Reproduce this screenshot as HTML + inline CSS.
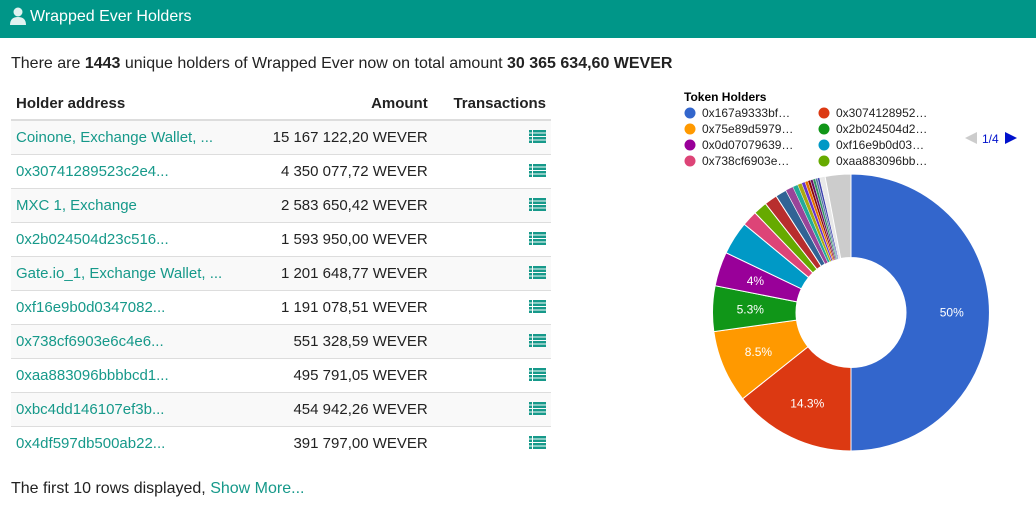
<!DOCTYPE html>
<html><head><meta charset="utf-8"><style>
body{margin:0;width:1036px;height:507px;overflow:hidden;background:#fff;font-family:"Liberation Sans",sans-serif;color:#333;position:relative}
.bar{position:absolute;left:0;top:0;width:1036px;height:38px;background:#009688;color:#fff;font-size:16px}
.bar span{position:absolute;left:30px;top:8px}
.p{position:absolute;left:11px;top:55px;font-size:16px;color:#222}
table{position:absolute;left:11px;top:88px;width:540px;border-collapse:collapse;font-size:15px}
th{height:31px;border-bottom:2px solid #ddd;font-weight:bold;color:#222;padding:0 5px;text-align:left}
td{height:33px;border-top:1px solid #ddd;padding:0 5px;color:#222}
tr.o td{background:#f9f9f9}
td a{color:#16998a}
.r{text-align:right}
td.am{padding-right:10px}
th.am{padding-right:10px}
.ic{display:inline-block;width:17px;height:13px;vertical-align:-1px}
.f{position:absolute;left:11px;top:480px;font-size:16px;color:#222}
.f a{color:#16998a}
</style></head><body>
<div class="bar"><svg style="position:absolute;left:10px;top:7px" width="16" height="18" viewBox="0 0 16 18"><circle cx="8" cy="5" r="4.5" fill="#e0f2f0"/><path d="M0 18 Q0 10 8 10 Q16 10 16 18Z" fill="#e0f2f0"/></svg><span>Wrapped Ever Holders</span></div>
<div class="p">There are <b>1443</b> unique holders of Wrapped Ever now on total amount <b>30 365 634,60 WEVER</b></div>
<table>
<tr><th>Holder address</th><th class="r am">Amount</th><th class="r">Transactions</th></tr>
<tbody id="tb"></tbody>
</table>
<div class="f">The first 10 rows displayed, <a>Show More...</a></div>
<svg id="pie" style="position:absolute;left:0;top:0" width="1036" height="507">
<text x="684" y="101" font-size="12" font-weight="bold" fill="#000" font-family="Liberation Sans">Token Holders</text>
</svg>
<script>
var rows=[["Coinone, Exchange Wallet, ...","15 167 122,20"],["0x30741289523c2e4...","4 350 077,72"],["MXC 1, Exchange","2 583 650,42"],["0x2b024504d23c516...","1 593 950,00"],["Gate.io_1, Exchange Wallet, ...","1 201 648,77"],["0xf16e9b0d0347082...","1 191 078,51"],["0x738cf6903e6c4e6...","551 328,59"],["0xaa883096bbbbcd1...","495 791,05"],["0xbc4dd146107ef3b...","454 942,26"],["0x4df597db500ab22...","391 797,00"]];
var ic='<svg class="ic" viewBox="0 0 17 13"><g fill="#16998a"><rect x="0" y="0" width="3" height="2.5"/><rect x="4" y="0" width="13" height="2.5"/><rect x="0" y="3.5" width="3" height="2.5"/><rect x="4" y="3.5" width="13" height="2.5"/><rect x="0" y="7" width="3" height="2.5"/><rect x="4" y="7" width="13" height="2.5"/><rect x="0" y="10.5" width="3" height="2.5"/><rect x="4" y="10.5" width="13" height="2.5"/></g></svg>';
var h='';rows.forEach(function(r,i){h+='<tr class="'+(i%2==0?'o':'')+'"><td><a>'+r[0]+'</a></td><td class="r am">'+r[1]+' WEVER</td><td class="r">'+ic+'</td></tr>'});
document.getElementById('tb').innerHTML=h;
var s=[[50,'#3366cc','50%'],[14.3,'#dc3912','14.3%'],[8.5,'#ff9900','8.5%'],[5.3,'#109618','5.3%'],[4,'#990099','4%'],[3.9,'#0099c6'],[1.8,'#dd4477'],[1.6,'#66aa00'],[1.5,'#b82e2e'],[1.3,'#316395'],[0.9,'#994499'],[0.6,'#22aa99'],[0.5,'#aaaa11'],[0.4,'#6633cc'],[0.35,'#e67300'],[0.3,'#8b0707'],[0.3,'#651067'],[0.3,'#329262'],[0.25,'#5574a6'],[0.25,'#3b3eac'],[0.65,'#e8e8e8'],[3,'#cccccc']];
var cx=851,cy=312.5,R=138.5,r=55,a=0,svg='';
function pt(rad,ang){return [cx+rad*Math.sin(ang),cy-rad*Math.cos(ang)]}
s.forEach(function(d){var a1=a,a2=a+d[0]/100*2*Math.PI;var p1=pt(R,a1),p2=pt(R,a2),p3=pt(r,a2),p4=pt(r,a1);var L=(a2-a1)>Math.PI?1:0;
svg+='<path d="M'+p1+' A'+R+' '+R+' 0 '+L+' 1 '+p2+' L'+p3+' A'+r+' '+r+' 0 '+L+' 0 '+p4+'Z" fill="'+d[1]+'" stroke="#fff" stroke-width="'+(d[0]<1?0.4:1)+'"/>';
if(d[2]){var m=(a1+a2)/2,q=pt((R+r)/2+4,m);svg+='<text x="'+q[0]+'" y="'+(q[1]+4)+'" text-anchor="middle" font-size="12" fill="#fff" font-family="Liberation Sans">'+d[2]+'</text>'}a=a2});
var lg=[['#3366cc','0x167a9333bf…',0,0],['#dc3912','0x3074128952…',1,0],['#ff9900','0x75e89d5979…',0,1],['#109618','0x2b024504d2…',1,1],['#990099','0x0d07079639…',0,2],['#0099c6','0xf16e9b0d03…',1,2],['#dd4477','0x738cf6903e…',0,3],['#66aa00','0xaa883096bb…',1,3]];
lg.forEach(function(l){var x=l[2]?824:690,y=114+l[3]*16;svg+='<circle cx="'+x+'" cy="'+(y-1)+'" r="5.5" fill="'+l[0]+'"/><text x="'+(x+12)+'" y="'+(y+3)+'" font-size="12" fill="#222" font-family="Liberation Sans">'+l[1]+'</text>'});
svg+='<path d="M965 138 L977 132 L977 144Z" fill="#ccc"/><text x="982" y="143" font-size="12" fill="#0011cc" font-family="Liberation Sans">1/4</text><path d="M1005 132 L1017 138 L1005 144Z" fill="#0011cc"/>';
document.getElementById('pie').insertAdjacentHTML('beforeend',svg);
</script>
</body></html>
